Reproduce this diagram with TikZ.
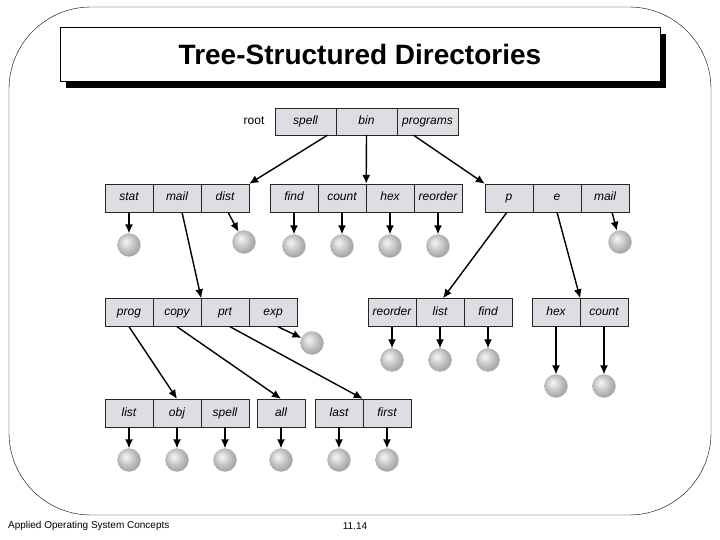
\documentclass[tikz,border=0pt]{standalone}
\usepackage{fontspec}
\setmainfont{Liberation Sans}
\setsansfont{Liberation Sans}
\usetikzlibrary{arrows.meta,shadows}
\definecolor{boxgray}{RGB}{221,221,226}
\pgfdeclareradialshading{filesphere}{\pgfqpoint{-8bp}{8bp}}{color(0bp)=(gray!8); color(9bp)=(gray!28); color(20bp)=(gray!55); color(28bp)=(gray!72); color(50bp)=(gray!72)}
\begin{document}
\begin{tikzpicture}[x=1pt,y=-1pt,
  cell/.style={draw=black!85,fill=boxgray,minimum width=48,minimum height=28,inner sep=0pt,
    text height=9pt,text depth=3pt,font=\fontsize{12}{14}\selectfont\sffamily\itshape},
  rootcell/.style={cell,minimum width=61,minimum height=27},
  file/.style={circle,minimum size=23,inner sep=0pt,shading=filesphere,draw=gray!60,line width=0.3pt},
  arr/.style={-{Latex[length=9pt,width=8pt]},line width=1.4pt},
  title/.style={draw,fill=white,minimum width=600,minimum height=54,
    general shadow={fill=black,shadow xshift=6pt,shadow yshift=-7pt},
    font=\fontsize{28}{30}\selectfont\bfseries\sffamily},
  foot/.style={inner sep=0pt,font=\fontsize{10}{12}\selectfont\sffamily}]
  \useasboundingbox (0,0) rectangle (720,540);
  \draw[rounded corners=82] (9,7) rectangle (711,515);
  \node[title] (head) at (360,54) {Tree-Structured Directories};
  \node[foot,anchor=west] (book) at (8,526) {Applied Operating System Concepts};
  \node[foot] (page) at (355,526) {11.14};

  \node[text height=9pt,text depth=3pt,font=\fontsize{12}{14}\selectfont\sffamily] (root) at (254,121.5) {root};
  \node[rootcell] (spell) at (305.5,121.5) {spell};
  \node[rootcell] (bin) at (366.5,121.5) {bin};
  \node[rootcell] (programs) at (427.5,121.5) {programs};

  \node[cell] (stat) at (129,198) {stat};
  \node[cell] (mail) at (177,198) {mail};
  \node[cell] (dist) at (225,198) {dist};
  \node[cell] (find) at (294,198) {find};
  \node[cell] (count) at (342,198) {count};
  \node[cell] (hex) at (390,198) {hex};
  \node[cell] (reorder) at (438,198) {reorder};
  \node[cell] (p) at (509,198) {p};
  \node[cell] (e) at (557,198) {e};
  \node[cell] (mailb) at (605,198) {mail};

  \node[cell] (prog) at (129,312.5) {prog};
  \node[cell] (copy) at (177,312.5) {copy};
  \node[cell] (prt) at (225,312.5) {prt};
  \node[cell] (exp) at (273,312.5) {exp};
  \node[cell] (reorderb) at (392,312.5) {reorder};
  \node[cell] (list) at (440,312.5) {list};
  \node[cell] (findb) at (488,312.5) {find};
  \node[cell] (hexb) at (556,312.5) {hex};
  \node[cell] (countb) at (604,312.5) {count};

  \node[cell] (listb) at (129,413) {list};
  \node[cell] (obj) at (177,413) {obj};
  \node[cell] (spellb) at (225,413) {spell};
  \node[cell] (all) at (281,413) {all};
  \node[cell] (last) at (339,413) {last};
  \node[cell] (first) at (387,413) {first};

  \node[file] (f-stat) at (129,245) {};
  \node[file] (f-dist) at (244,242) {};
  \node[file] (f-find) at (294,246) {};
  \node[file] (f-count) at (342,246) {};
  \node[file] (f-hex) at (390,246) {};
  \node[file] (f-reorder) at (438,246) {};
  \node[file] (f-mail) at (620,242) {};
  \node[file] (f-exp) at (312,343) {};
  \node[file] (f-reorderb) at (392,360) {};
  \node[file] (f-list) at (440,360) {};
  \node[file] (f-findb) at (488,360) {};
  \node[file] (f-hexb) at (556,386) {};
  \node[file] (f-countb) at (604,386) {};
  \node[file] (f-listb) at (129,460) {};
  \node[file] (f-obj) at (177,460) {};
  \node[file] (f-spellb) at (225,460) {};
  \node[file] (f-all) at (281,460) {};
  \node[file] (f-last) at (339,460) {};
  \node[file] (f-first) at (387,460) {};

  \draw[arr] ([xshift=22]spell.south) -- (dist.north east);
  \draw[arr] (bin.south) -- (count.north east);
  \draw[arr] ([xshift=-14]programs.south) -- (p.north west);

  \draw[arr] (stat.south) -- (f-stat);
  \draw[arr] ([xshift=5]mail.south) -- (copy.north east);
  \draw[arr] ([xshift=3]dist.south) -- (f-dist);
  \draw[arr] (find.south) -- (f-find);
  \draw[arr] (count.south) -- (f-count);
  \draw[arr] (hex.south) -- (f-hex);
  \draw[arr] (reorder.south) -- (f-reorder);
  \draw[arr] ([xshift=-2]p.south) -- ([xshift=3]list.north);
  \draw[arr] (e.south) -- (hexb.north east);
  \draw[arr] ([xshift=7]mailb.south) -- (f-mail);

  \draw[arr] (prog.south) -- (obj.north);
  \draw[arr] (copy.south) -- (all.north);
  \draw[arr] ([xshift=5]prt.south) -- (first.north west);
  \draw[arr] ([xshift=5]exp.south) -- (f-exp);
  \draw[arr] (reorderb.south) -- (f-reorderb);
  \draw[arr] (list.south) -- (f-list);
  \draw[arr] (findb.south) -- (f-findb);
  \draw[arr] (hexb.south) -- (f-hexb);
  \draw[arr] (countb.south) -- (f-countb);

  \draw[arr] (listb.south) -- (f-listb);
  \draw[arr] (obj.south) -- (f-obj);
  \draw[arr] (spellb.south) -- (f-spellb);
  \draw[arr] (all.south) -- (f-all);
  \draw[arr] (last.south) -- (f-last);
  \draw[arr] (first.south) -- (f-first);
\end{tikzpicture}
\end{document}
